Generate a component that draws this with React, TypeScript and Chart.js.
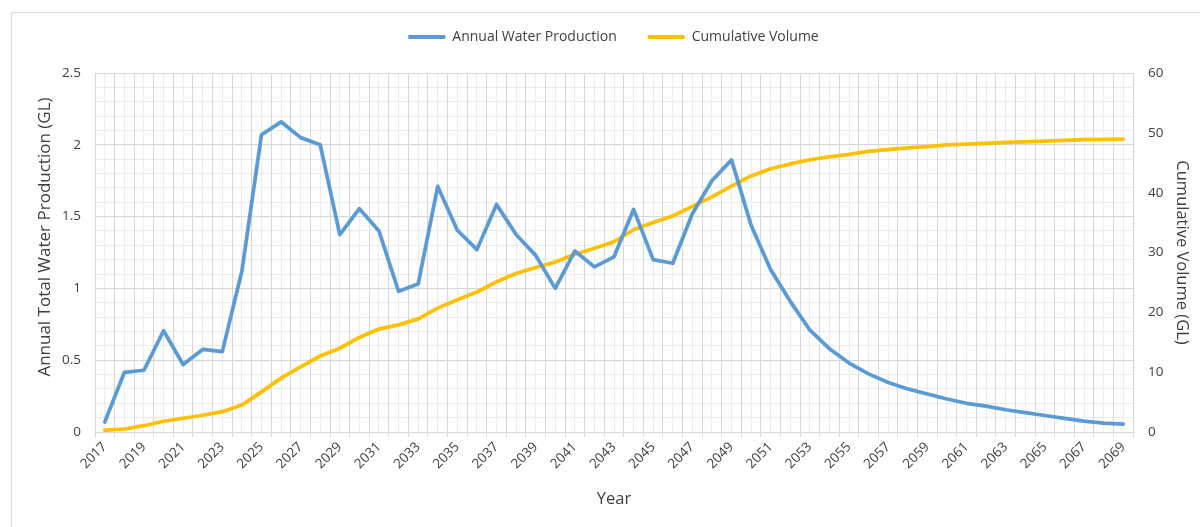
import React, { useEffect, useRef } from 'react';
import { Chart, registerables } from 'chart.js';

Chart.register(...registerables);

const years = [
  2017, 2018, 2019, 2020, 2021, 2022, 2023, 2024, 2025, 2026, 2027, 2028,
  2029, 2030, 2031, 2032, 2033, 2034, 2035, 2036, 2037, 2038, 2039, 2040,
  2041, 2042, 2043, 2044, 2045, 2046, 2047, 2048, 2049, 2050, 2051, 2052,
  2053, 2054, 2055, 2056, 2057, 2058, 2059, 2060, 2061, 2062, 2063, 2064,
  2065, 2066, 2067, 2068, 2069,
];
const yearLabels = years.map(String);

const annualProduction = [
  0.07, 0.415, 0.43, 0.705, 0.47, 0.575, 0.56, 1.12, 2.07, 2.16, 2.05, 2.0,
  1.375, 1.555, 1.4, 0.98, 1.03, 1.71, 1.405, 1.27, 1.585, 1.375, 1.23, 1.0,
  1.26, 1.15, 1.22, 1.55, 1.2, 1.175, 1.52, 1.75, 1.895, 1.44, 1.13, 0.91,
  0.71, 0.58, 0.48, 0.405, 0.345, 0.3, 0.265, 0.23, 0.2, 0.18, 0.155, 0.135,
  0.115, 0.095, 0.075, 0.062, 0.055,
];

const cumulativeVolume = [
  0.3, 0.5, 1.05, 1.8, 2.3, 2.8, 3.4, 4.5, 6.7, 9.0, 10.9, 12.7,
  14.0, 15.8, 17.2, 17.9, 18.9, 20.7, 22.1, 23.4, 25.1, 26.5, 27.5, 28.4,
  29.7, 30.7, 31.8, 33.8, 35.0, 36.1, 37.7, 39.3, 41.1, 42.8, 44.0, 44.8,
  45.5, 46.0, 46.4, 46.9, 47.2, 47.5, 47.7, 48.0, 48.1, 48.25, 48.4, 48.5,
  48.6, 48.75, 48.85, 48.9, 48.95,
];

const seriesNames = ['Annual Water Production', 'Cumulative Volume'];
const seriesColors = ['#5B9BD5', '#FFC000'];
const leftAxisRange = [0, 2.5];
const leftAxisStep = 0.5;
const leftMinorStep = 0.1;
const rightAxisRange = [0, 60];
const rightAxisStep = 10;

const FONT = "'Open Sans', sans-serif";
const TEXT = '#404040';
const MAJOR = '#d6d6d6';
const MINOR = '#ececec';

const legendHeightPlugin = {
  id: 'legendHeightFix',
  beforeLayout(chart: any) {
    const lg = chart.legend;
    if (lg && !lg.__patched) {
      const orig = lg.fit;
      lg.fit = function () {
        orig.call(this);
        this.height = 74;
      };
      lg.__patched = true;
    }
  },
};

export default function App() {
  const ref = useRef<HTMLCanvasElement>(null);

  useEffect(() => {
    if (!ref.current) return;
    const chart = new Chart(ref.current, {
      type: 'line',
      data: {
        labels: yearLabels,
        datasets: [
          {
            label: seriesNames[0],
            data: annualProduction,
            borderColor: seriesColors[0],
            backgroundColor: seriesColors[0],
            borderWidth: 3.75,
            pointRadius: 0,
            tension: 0,
            borderCapStyle: 'round',
            borderJoinStyle: 'round',
            xAxisID: 'x',
            yAxisID: 'y',
          },
          {
            label: seriesNames[1],
            data: cumulativeVolume,
            borderColor: seriesColors[1],
            backgroundColor: seriesColors[1],
            borderWidth: 3.75,
            pointRadius: 0,
            tension: 0,
            borderCapStyle: 'round',
            borderJoinStyle: 'round',
            xAxisID: 'x',
            yAxisID: 'y1',
          },
        ],
      },
      options: {
        animation: false,
        responsive: false,
        maintainAspectRatio: false,
        events: [],
        layout: { padding: { top: -1, left: 35, right: 8, bottom: 18 } },
        plugins: {
          tooltip: { enabled: false },
          legend: {
            display: true,
            position: 'top',
            align: 'center',
            labels: {
              boxWidth: 37,
              boxHeight: 4,
              padding: 31,
              color: TEXT,
              font: { family: FONT, size: 14 },
              generateLabels: (c: any) =>
                Chart.defaults.plugins.legend.labels
                  .generateLabels(c)
                  .map((l: any) => ({ ...l, lineWidth: 0, fillStyle: l.strokeStyle })),
            },
          },
        },
        scales: {
          x: {
            type: 'category',
            position: 'bottom',
            offset: true,
            grid: {
              offset: true,
              color: MAJOR,
              lineWidth: 1,
              drawTicks: true,
              tickLength: 5,
              tickColor: MAJOR,
            },
            border: { display: true, color: MAJOR },
            ticks: {
              autoSkip: false,
              maxRotation: 45,
              minRotation: 45,
              padding: 2,
              color: TEXT,
              font: { family: FONT, size: 13.5 },
              callback: (_v: any, i: number) => (i % 2 === 0 ? yearLabels[i] : ''),
            },
            title: {
              display: true,
              text: 'Year',
              color: TEXT,
              font: { family: FONT, size: 16.5 },
              padding: { top: 0, bottom: 0 },
            },
            afterFit: (s: any) => {
              s.height = 77;
            },
          },
          xMinor: {
            type: 'category',
            position: 'bottom',
            offset: true,
            display: true,
            grid: { offset: false, color: MINOR, drawTicks: false, z: -2 },
            border: { display: false },
            ticks: { display: false },
            afterFit: (s: any) => {
              s.height = 0;
            },
          },
          y: {
            type: 'linear',
            position: 'left',
            min: leftAxisRange[0],
            max: leftAxisRange[1],
            ticks: {
              stepSize: leftAxisStep,
              padding: 14,
              color: TEXT,
              font: { family: FONT, size: 13.5 },
              callback: (v: any) => String(Math.round(Number(v) * 10) / 10),
            },
            grid: { color: MAJOR, drawTicks: false },
            border: { display: false },
            title: {
              display: true,
              text: '       Annual Total Water Production (GL)',
              color: TEXT,
              font: { family: FONT, size: 17 },
              padding: { top: 0, bottom: 0 },
            },
            afterFit: (s: any) => {
              s.width = 60;
            },
          },
          yMinor: {
            type: 'linear',
            position: 'left',
            min: leftAxisRange[0],
            max: leftAxisRange[1],
            display: true,
            ticks: { stepSize: leftMinorStep, display: false },
            grid: { color: MINOR, drawTicks: false, z: -2 },
            border: { display: false },
            afterFit: (s: any) => {
              s.width = 0;
            },
          },
          y1: {
            type: 'linear',
            position: 'right',
            min: rightAxisRange[0],
            max: rightAxisRange[1],
            ticks: {
              stepSize: rightAxisStep,
              padding: 15,
              color: TEXT,
              font: { family: FONT, size: 13.5 },
            },
            grid: { drawOnChartArea: false, drawTicks: false },
            border: { display: false },
            title: {
              display: true,
              text: 'Cumulative Volume (GL)',
              color: TEXT,
              font: { family: FONT, size: 16.5 },
              padding: { top: 0, bottom: 0 },
            },
            afterFit: (s: any) => {
              s.width = 59;
            },
          },
        },
      } as any,
      plugins: [legendHeightPlugin],
    });
    return () => chart.destroy();
  }, []);

  return (
    <div
      style={{
        position: 'absolute',
        left: 0,
        top: 0,
        width: 1200,
        height: 527,
        background: '#ffffff',
        overflow: 'hidden',
      }}
    >
      <div
        style={{
          position: 'absolute',
          left: 11,
          top: 12,
          right: -2,
          bottom: -2,
          borderTop: '1px solid #d9d9d9',
          borderLeft: '1px solid #d9d9d9',
        }}
      />
      <canvas
        ref={ref}
        width={1200}
        height={527}
        style={{ position: 'absolute', left: 0, top: 0, width: 1200, height: 527 }}
      />
    </div>
  );
}
